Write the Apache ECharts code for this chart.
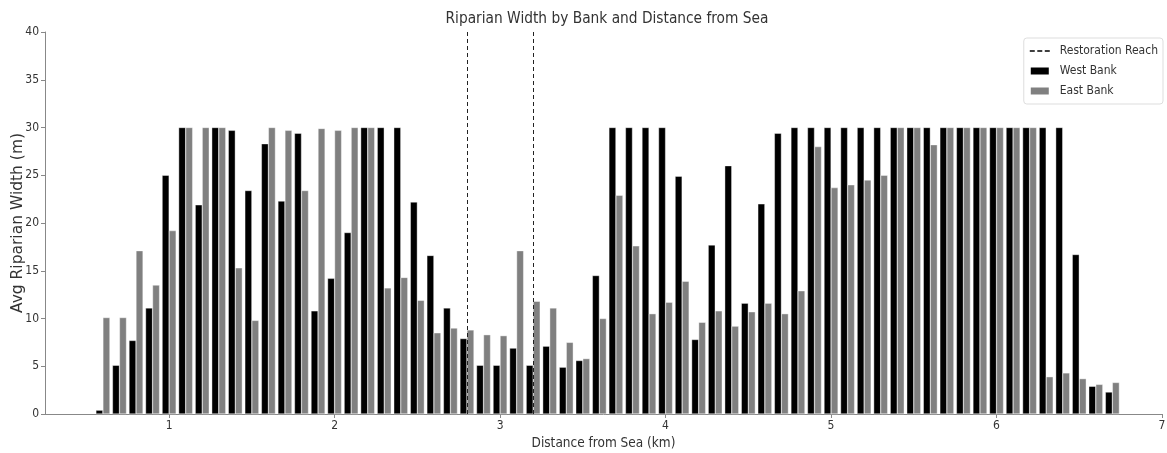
<!DOCTYPE html>
<html>
<head>
<meta charset="utf-8">
<title>Riparian Width</title>
<script src="https://cdn.jsdelivr.net/npm/echarts@6/dist/echarts.min.js"></script>
<style>
    html, body { margin: 0; padding: 0; background: #fff; }
    #main { width: 1167px; height: 453px; }
</style>
</head>
<body>
<div id="main"></div>
<script>
// distance from sea (km), one pair of bars per 0.1 km
var distances = [
    0.6, 0.7, 0.8, 0.9, 1.0, 1.1, 1.2, 1.3, 1.4, 1.5,
    1.6, 1.7, 1.8, 1.9, 2.0, 2.1, 2.2, 2.3, 2.4, 2.5,
    2.6, 2.7, 2.8, 2.9, 3.0, 3.1, 3.2, 3.3, 3.4, 3.5,
    3.6, 3.7, 3.8, 3.9, 4.0, 4.1, 4.2, 4.3, 4.4, 4.5,
    4.6, 4.7, 4.8, 4.9, 5.0, 5.1, 5.2, 5.3, 5.4, 5.5,
    5.6, 5.7, 5.8, 5.9, 6.0, 6.1, 6.2, 6.3, 6.4, 6.5,
    6.6, 6.7
];
var westBank = [
    0.4, 5.1, 7.7, 11.1, 25.0, 30, 21.9, 30, 29.7, 23.4,
    28.3, 22.3, 29.4, 10.8, 14.2, 19.0, 30, 30, 30, 22.2,
    16.6, 11.1, 7.9, 5.1, 5.1, 6.9, 5.1, 7.1, 4.9, 5.6,
    14.5, 30, 30, 30, 30, 24.9, 7.8, 17.7, 26.0, 11.6,
    22.0, 29.4, 30, 30, 30, 30, 30, 30, 30, 30,
    30, 30, 30, 30, 30, 30, 30, 30, 30, 16.7,
    2.9, 2.3
];
var eastBank = [
    10.1, 10.1, 17.1, 13.5, 19.2, 30, 30, 30, 15.3, 9.8,
    30, 29.7, 23.4, 29.9, 29.7, 30, 30, 13.2, 14.3, 11.9,
    8.5, 9.0, 8.8, 8.3, 8.2, 17.1, 11.8, 11.1, 7.5, 5.8,
    10.0, 22.9, 17.6, 10.5, 11.7, 13.9, 9.6, 10.8, 9.2, 10.7,
    11.6, 10.5, 12.9, 28.0, 23.7, 24.0, 24.5, 25.0, 30, 30,
    28.2, 30, 30, 30, 30, 30, 30, 3.9, 4.3, 3.7,
    3.1, 3.3
];
var restorationReach = [2.8, 3.2];
var xTicks = [1, 2, 3, 4, 5, 6, 7];

var font = '"DejaVu Sans Condensed", "DejaVu Sans", sans-serif';
var chart = echarts.init(document.getElementById('main'), null, { renderer: 'canvas' });

function pairs(values) {
    return distances.map(function (d, i) { return [d, values[i]]; });
}

var option = {
    animation: false,
    textStyle: { fontFamily: font },
    title: {
        text: 'Riparian Width by Bank and Distance from Sea',
        left: 602,
        textAlign: 'center',
        top: 7,
        textStyle: { fontFamily: font, fontSize: 15.3, fontWeight: 'normal', color: '#333' }
    },
    legend: {
        orient: 'vertical',
        right: 4,
        top: 38,
        padding: [7, 5, 7, 5],
        itemGap: 8,
        itemWidth: 20,
        itemHeight: 9,
        borderColor: '#ddd',
        borderWidth: 1,
        borderRadius: 3,
        textStyle: { fontFamily: font, fontSize: 12, color: '#333', padding: [0, 0, 0, 5] },
        data: [
            { name: 'Restoration Reach', icon: 'path://M0,0h5v1.4h-5zM7.5,0h5v1.4h-5zM15,0h5v1.4h-5z' },
            { name: 'West Bank', icon: 'rect' },
            { name: 'East Bank', icon: 'rect' }
        ]
    },
    grid: { left: 45, right: 5, top: 32, bottom: 39, containLabel: false, outerBoundsMode: 'none' },
    xAxis: {
        type: 'value',
        min: 0.25,
        max: 7,
        name: 'Distance from Sea (km)',
        nameLocation: 'middle',
        nameGap: 22,
        nameMoveOverlap: false,
        nameTextStyle: { fontFamily: font, fontSize: 13.5, color: '#333' },
        axisLine: { show: true, onZero: false, lineStyle: { color: '#888' } },
        axisTick: { show: true, customValues: xTicks, length: 4, lineStyle: { color: '#888' } },
        axisLabel: { customValues: xTicks, margin: 6, fontSize: 12, color: '#333', fontFamily: font },
        splitLine: { show: false }
    },
    yAxis: {
        type: 'value',
        min: 0,
        max: 40,
        interval: 5,
        name: 'Avg Riparian Width (m)',
        nameLocation: 'middle',
        nameGap: 19,
        nameMoveOverlap: false,
        nameTextStyle: { fontFamily: '"DejaVu Sans", sans-serif', fontSize: 15.5, color: '#333' },
        axisLine: { show: true, lineStyle: { color: '#888' } },
        axisTick: { show: true, length: 4, lineStyle: { color: '#888' } },
        axisLabel: { margin: 6, fontSize: 12, color: '#333', fontFamily: font },
        splitLine: { show: false }
    },
    series: [
        {
            name: 'Restoration Reach',
            type: 'line',
            data: [],
            symbol: 'none',
            itemStyle: { color: '#000' },
            lineStyle: { color: '#000', type: 'dashed', width: 1 },
            markLine: {
                silent: true,
                symbol: 'none',
                label: { show: false },
                lineStyle: { color: '#222', type: [4, 3], width: 1 },
                data: restorationReach.map(function (x) { return { xAxis: x }; })
            }
        },
        {
            name: 'West Bank',
            type: 'bar',
            data: pairs(westBank),
            barWidth: 7,
            barGap: '0%',
            itemStyle: { color: '#000', borderColor: '#fff', borderWidth: 0.4 }
        },
        {
            name: 'East Bank',
            type: 'bar',
            data: pairs(eastBank),
            barWidth: 7,
            barGap: '0%',
            itemStyle: { color: '#808080', borderColor: '#fff', borderWidth: 0.4 }
        }
    ]
};
option && chart.setOption(option);
</script>
</body>
</html>
